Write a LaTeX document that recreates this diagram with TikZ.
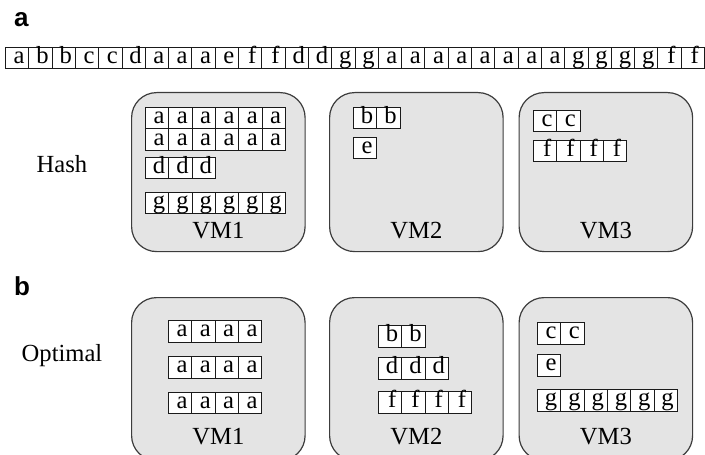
\documentclass[tikz,border=0pt]{standalone}
\usepackage{fontspec}
\setmainfont{Liberation Serif}
\newfontfamily\panelfont{Liberation Sans}
\usetikzlibrary{positioning}
\definecolor{vmFill}{HTML}{E4E4E4}
\definecolor{vmLine}{HTML}{3C3C3C}
\definecolor{cellInk}{HTML}{1A1A1A}

% one row of letter cells, left edge at (#2,#3)
\newcommand{\cellrow}[4]{%
  \foreach \ch [count=\k from 0] in {#4}
    \node[cell, anchor=north west] (#1-\k) at ({#2+\k*23.3},#3) {\ch};
}

\begin{document}
\begin{tikzpicture}[
  x=0.5pt, y=-0.5pt,
  every node/.style = {font=\fontsize{12.3}{14}\selectfont},
  cell/.style = {draw=cellInk, fill=white, line width=0.45pt, inner sep=0pt,
                 minimum width=11.65pt, text height=8.05pt, text depth=2.7pt,
                 execute at begin node={\hspace*{2pt}}},
  vmbox/.style = {draw=vmLine, fill=vmFill, line width=0.6pt,
                  rounded corners=12.5pt, inner sep=0pt, anchor=north west,
                  minimum width=86.75pt, minimum height=79.5pt},
  vmname/.style = {anchor=base, yshift=7pt},
  rowlabel/.style = {anchor=base},
  panel/.style = {font=\panelfont\bfseries\fontsize{13}{15}\selectfont,
                  anchor=base west},
]
\useasboundingbox (0,0) rectangle (705,454);

% request stream
\node[panel] (pa) at (7,27) {a};
\cellrow{s}{5}{47}{a,b,b,c,c,d,a,a,a,e,f,f,d,d,g,g,a,a,a,a,a,a,a,a,g,g,g,g,f,f}

% Hash placement
\node[rowlabel] (hash) at (62,172) {Hash};
\node[vmbox] (h1) at (131,92) {};
\node[vmbox] (h2) at (329,92) {};
\node[vmbox] (h3) at (518.5,92) {};
\node[vmname] (h1name) at (h1.south) {VM1};
\node[vmname] (h2name) at (h2.south) {VM2};
\node[vmname] (h3name) at (h3.south) {VM3};

\cellrow{ha1}{145}{107}{a,a,a,a,a,a}
\cellrow{ha2}{145}{128.5}{a,a,a,a,a,a}
\cellrow{hd}{145}{157}{d,d,d}
\cellrow{hg}{145}{191.5}{g,g,g,g,g,g}
\cellrow{hb}{353}{107}{b,b}
\cellrow{he}{353}{137}{e}
\cellrow{hc}{533}{110}{c,c}
\cellrow{hf}{533}{140}{f,f,f,f}

% Optimal placement (boxes run past the lower edge)
\node[panel] (pb) at (7,295) {b};
\node[rowlabel] (optimal) at (62,361) {Optimal};
\node[vmbox, minimum height=81.5pt] (o1) at (131,297) {};
\node[vmbox, minimum height=81.5pt] (o2) at (329,297) {};
\node[vmbox, minimum height=81.5pt] (o3) at (518.5,297) {};
\node[vmname, yshift=1.5pt] (o1name) at (o1.south) {VM1};
\node[vmname, yshift=1.5pt] (o2name) at (o2.south) {VM2};
\node[vmname, yshift=1.5pt] (o3name) at (o3.south) {VM3};

\cellrow{oa1}{168}{320}{a,a,a,a}
\cellrow{oa2}{168}{356}{a,a,a,a}
\cellrow{oa3}{168}{391.5}{a,a,a,a}
\cellrow{ob}{378}{325}{b,b}
\cellrow{od}{378}{357}{d,d,d}
\cellrow{of}{378}{391}{f,f,f,f}
\cellrow{oc}{537}{322}{c,c}
\cellrow{oe}{537}{354}{e}
\cellrow{og}{537}{389}{g,g,g,g,g,g}

\end{tikzpicture}
\end{document}
